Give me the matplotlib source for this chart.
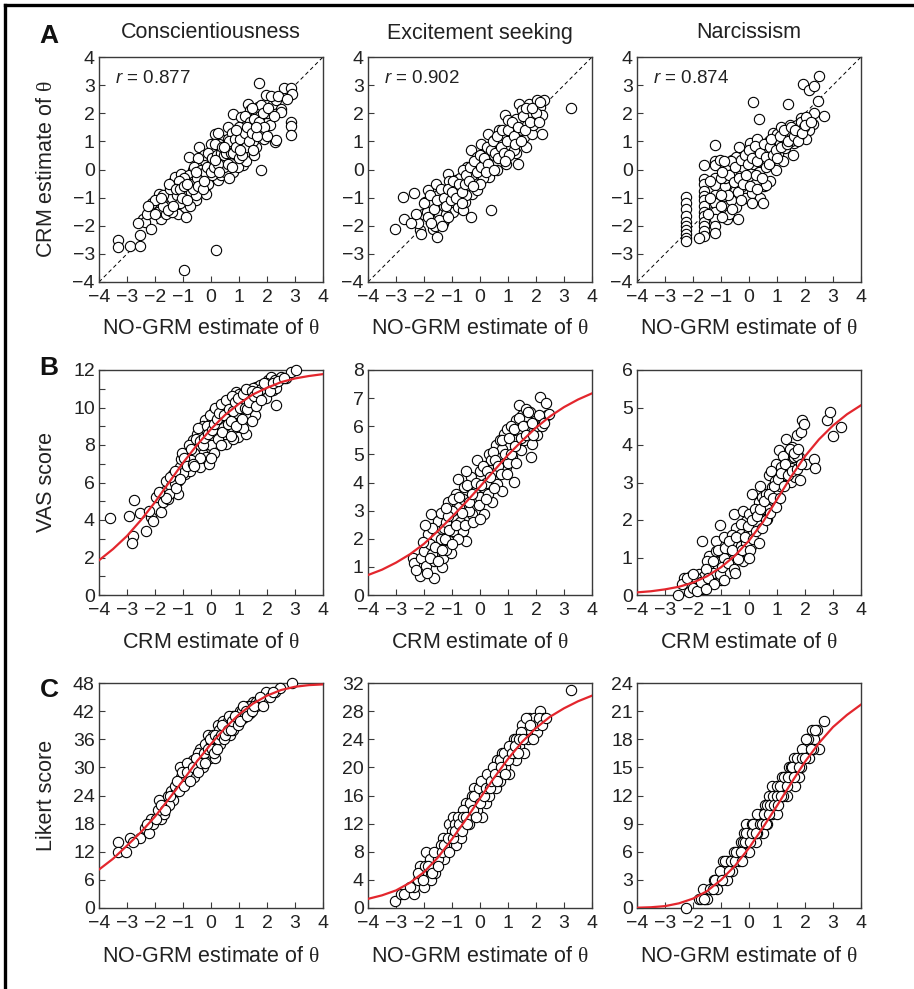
import matplotlib
matplotlib.use('Agg')
import matplotlib.pyplot as plt
from matplotlib.lines import Line2D
from matplotlib.ticker import MultipleLocator

plt.rcParams['font.family'] = ['Liberation Sans', 'DejaVu Sans']
plt.rcParams['mathtext.fontset'] = 'custom'
plt.rcParams['mathtext.rm'] = 'Liberation Serif'
plt.rcParams['mathtext.it'] = 'Liberation Sans:italic'
plt.rcParams['mathtext.bf'] = 'Liberation Sans:bold'

# ---- dados ----
traits = ['Conscientiousness', 'Excitement seeking', 'Narcissism']
r_values = ['0.877', '0.902', '0.874']

# linha A: NO-GRM (x) vs CRM (y)
pts_a_consc = [(-3.32, -2.52), (-3.32, -2.75), (-2.9, -2.73), (-2.55, -2.73), (-2.52, -2.34), (-2.43, -1.75),
               (-2.35, -1.86), (-2.13, -2.1), (-2.17, -1.51), (-1.9, -1.1), (-1.86, -0.86), (-1.8, -1.75),
               (-1.65, -1.39), (-1.6, -1.15), (-1.54, -0.86), (-1.36, -0.44), (-1.3, -0.27), (-1.24, -1.1),
               (-1.18, -1.57), (-1.06, -0.15), (-1.02, -0.86), (-0.94, -1.33), (-0.88, -1.69), (-0.79, 0.45),
               (-0.7, -0.5), (-0.64, -0.03), (-0.52, -1.1), (-0.43, 0.8), (-0.35, -0.38), (-0.29, 0.21),
               (-0.23, -0.62), (-0.17, -0.86), (-0.05, -0.27), (0.01, 0.92), (0.07, 0.45), (0.07, -0.03),
               (0.13, 1.27), (0.19, -2.87), (-0.96, -3.58), (0.25, -0.38), (0.31, 0.57), (0.43, 1.04),
               (0.55, 0.21), (0.61, 1.51), (0.67, 0.8), (0.79, 1.98), (0.79, -0.09), (0.85, 0.33), (0.96, 1.27),
               (1.02, 0.68), (1.08, 1.87), (1.14, 0.15), (1.26, 1.16), (1.32, 2.34), (1.36, 0.57), (1.38, 2.1),
               (1.5, 1.51), (1.62, 0.8), (1.68, 2.22), (1.71, 3.08), (1.8, 0.0), (1.86, 1.27), (1.92, 1.75),
               (1.98, 2.64), (2.21, 2.34), (2.27, 0.98), (2.33, 2.46), (2.51, 2.16), (2.55, 2.64), (2.6, 2.9),
               (2.87, 2.9), (2.89, 2.7), (2.87, 1.69), (2.87, 1.54), (2.87, 1.22), (2.51, 2.04), (2.33, 1.04),
               (-1.5, -1.3), (-1.4, -1.0), (-1.3, -0.6), (-1.2, -0.9), (-1.1, -1.2), (-1.0, -0.5), (-0.9, -0.9),
               (-0.8, -0.2), (-0.7, -0.8), (-0.6, -0.4), (-0.5, 0.1), (-0.4, -0.5), (-0.3, -0.2), (-0.2, 0.3),
               (-0.1, -0.5), (0.0, 0.2), (0.1, 0.6), (0.2, 0.0), (0.3, 0.9), (0.35, -0.2), (0.4, 0.4), (0.5, 0.8),
               (0.5, -0.1), (0.6, 1.1), (0.7, 0.3), (0.8, 0.9), (0.9, 0.5), (1.0, 1.5), (1.1, 0.8), (1.2, 1.9),
               (1.3, 0.5), (1.4, 1.7), (1.5, 1.0), (1.6, 2.0), (1.7, 1.4), (1.8, 2.3), (1.9, 1.1), (2.0, 2.0),
               (-1.9, -1.5), (-1.7, -0.9), (-1.6, -1.6), (-1.45, -0.7), (-0.95, -0.3), (-0.75, -1.3),
               (-0.55, -0.9), (-0.25, 0.5), (0.05, -0.2), (0.15, 0.9), (0.45, 0.1), (0.65, -0.3), (0.75, 1.3),
               (0.95, 0.1), (1.15, 1.3), (1.25, 0.3), (1.45, 2.2), (1.55, 0.5), (1.75, 1.9), (2.1, 1.6),
               (0.25, 1.3), (-0.45, 0.4), (-1.15, -0.4), (-2.1, -1.2), (-2.3, -1.6),
               (-1.7, -1.3), (-1.5, -0.5), (-1.4, -1.5), (-1.25, -0.7), (-1.1, -0.7), (-1.05, -1.0),
               (-0.95, -0.6), (-0.85, -1.1), (-0.75, -0.5), (-0.65, -0.7), (-0.6, 0.1), (-0.5, -0.3),
               (-0.45, -0.6), (-0.35, 0.0), (-0.3, -0.7), (-0.2, -0.1), (-0.15, 0.1), (-0.1, 0.6), (0.0, -0.1),
               (0.05, 0.4), (0.1, 0.1), (0.2, 0.5), (0.25, 0.2), (0.3, -0.1), (0.35, 0.6), (0.4, 0.8),
               (0.45, 0.5), (0.55, 0.6), (0.6, 0.2), (0.65, 1.0), (0.7, 0.6), (0.75, 0.1), (0.8, 0.6),
               (0.85, 1.1), (0.9, 0.8), (1.0, 0.4), (1.05, 1.1), (1.1, 0.5), (1.2, 1.3), (1.25, 0.8), (1.3, 1.5),
               (1.35, 1.0), (1.45, 1.3), (1.5, 0.7), (1.55, 1.8), (1.65, 1.2), (1.7, 1.7), (1.85, 2.0),
               (1.9, 1.5), (2.0, 1.2), (2.05, 2.2), (2.15, 2.6), (2.25, 1.9), (2.4, 2.6), (2.7, 2.5),
               (-2.0, -1.1), (-1.8, -1.0), (-2.25, -1.3), (-2.6, -1.9), (-2.0, -1.6), (-1.55, -1.45),
               (-1.35, -1.3), (-0.85, -0.5), (-0.55, -0.1), (-0.25, -0.4), (0.15, 0.35), (0.45, 0.8),
               (0.9, 1.4), (1.05, 0.7), (1.6, 1.5)]

pts_a_excit = [(-3.02, -2.1), (-2.76, -0.98), (-2.7, -1.75), (-2.34, -0.83), (-2.31, -1.86), (-2.16, -2.16),
               (-2.1, -2.28), (-2.04, -1.57), (-1.95, -1.15), (-1.87, -0.74), (-1.81, -1.33), (-1.75, -0.98),
               (-1.69, -2.1), (-1.63, -1.81), (-1.57, -0.5), (-1.55, -2.4), (-1.45, -1.57), (-1.39, -1.09),
               (-1.33, -1.92), (-1.24, -1.75), (-1.22, -0.86), (-1.16, -0.15), (-1.12, -1.09), (-1.04, -0.56),
               (-0.98, -1.51), (-0.92, -0.98), (-0.86, -0.38), (-0.8, -1.33), (-0.74, -0.62), (-0.68, -0.86),
               (-0.62, -1.45), (-0.56, -0.15), (-0.53, -1.15), (-0.45, 0.09), (-0.45, -0.62), (-0.33, -1.69),
               (-0.33, 0.68), (-0.27, -0.86), (-0.21, -0.38), (-0.15, 0.09), (-0.09, 0.45), (-0.09, -0.74),
               (-0.03, -0.15), (0.03, 0.92), (0.09, 0.33), (0.18, 0.09), (0.21, 0.62), (0.27, 1.27), (0.32, -0.27),
               (0.38, -1.45), (0.44, 0.45), (0.5, 1.04), (0.56, 0.21), (0.62, 0.8), (0.68, 1.39), (0.74, 0.45),
               (0.8, 1.1), (0.89, 1.93), (0.94, 0.21), (1.01, 1.75), (1.06, 0.8), (1.15, 1.04), (1.21, 1.51),
               (1.27, 0.57), (1.33, 1.27), (1.37, 0.21), (1.41, 2.34), (1.49, 2.1), (1.51, 1.63), (1.57, 1.16),
               (1.63, 0.8), (1.69, 1.57), (1.75, 2.34), (1.81, 1.93), (1.87, 1.27), (1.92, 2.1), (2.04, 2.46),
               (2.13, 2.22), (2.22, 1.93), (2.22, 1.27), (2.28, 2.46), (3.26, 2.2),
               (-1.9, -1.5), (-1.7, -1.2), (-1.5, -0.9), (-1.3, -1.3), (-1.1, -0.4), (-0.9, -0.7), (-0.7, -0.3),
               (-0.5, -0.9), (-0.3, -0.2), (-0.1, 0.2), (0.1, -0.3), (0.3, 0.5), (0.5, 0.5), (0.7, 0.9),
               (0.9, 1.2), (1.1, 1.3), (1.3, 1.8), (1.5, 1.4), (1.7, 2.0), (1.9, 1.6), (-2.2, -1.9), (-1.6, -2.0),
               (-1.2, -1.6), (-0.6, 0.0), (0.0, -0.5), (0.6, 0.0), (1.2, 0.7), (2.0, 2.0),
               (-2.0, -1.2), (-1.85, -1.7), (-1.8, -0.9), (-1.65, -1.4), (-1.55, -1.1), (-1.45, -1.8),
               (-1.4, -0.7), (-1.3, -1.0), (-1.2, -1.3), (-1.15, -0.7), (-1.05, -1.1), (-1.0, -0.8),
               (-0.95, -0.4), (-0.85, -1.0), (-0.75, -0.5), (-0.65, -0.8), (-0.55, -0.5), (-0.5, -0.2),
               (-0.4, -0.4), (-0.35, 0.1), (-0.25, -0.6), (-0.2, 0.3), (-0.1, -0.1), (0.0, 0.5), (0.05, 0.1),
               (0.15, 0.4), (0.25, 0.8), (0.3, 0.2), (0.4, 0.7), (0.45, 1.0), (0.55, 0.6), (0.6, 1.2),
               (0.65, 0.4), (0.75, 0.8), (0.8, 1.4), (0.85, 0.6), (0.95, 1.0), (1.0, 1.4), (1.05, 0.5),
               (1.15, 1.7), (1.2, 1.2), (1.25, 0.9), (1.35, 1.5), (1.45, 1.0), (1.55, 1.9), (1.6, 1.4),
               (1.65, 2.2), (1.8, 1.7), (1.85, 2.2), (2.1, 1.7), (2.15, 2.4), (-2.45, -1.9), (-2.3, -1.6),
               (-1.75, -1.9), (-1.35, -2.0), (-1.15, -1.7), (-0.65, -1.2), (0.2, -0.1), (0.5, 0.0), (0.9, 0.3)]

pts_a_narc = [(-2.25, -0.98), (-2.25, -1.2), (-2.25, -1.4), (-2.25, -1.65), (-2.25, -1.85), (-2.25, -2.0),
              (-2.25, -2.15), (-2.25, -2.3), (-2.25, -2.45), (-2.25, -2.55),
              (-1.62, 0.15), (-1.62, -0.35), (-1.62, -0.5), (-1.62, -0.75), (-1.62, -0.95), (-1.62, -1.1),
              (-1.62, -1.3), (-1.62, -1.5), (-1.62, -1.65), (-1.62, -1.85), (-1.62, -2.0), (-1.62, -2.2),
              (-1.62, -2.35), (-1.8, -2.42),
              (-1.2, 0.86), (-1.2, 0.3), (-1.2, 0.15), (-1.2, -0.3), (-1.2, -0.55), (-1.2, -0.9), (-1.2, -1.2),
              (-1.2, -1.5), (-1.2, -1.75), (-1.2, -2.0), (-1.2, -2.25),
              (-0.85, -0.6), (-0.85, -1.0), (-0.85, -1.3), (-0.85, -1.55), (-0.85, -0.3), (-0.85, 0.05),
              (0.16, 2.4), (0.34, 1.81), (1.39, 2.34), (1.92, 3.05), (2.14, 2.84), (2.32, 2.96), (2.49, 3.31),
              (2.46, 2.44), (2.69, 1.89), (2.32, 2.0), (2.29, 1.63), (2.14, 1.39), (2.02, 1.1), (1.58, 0.5),
              (1.6, 0.95), (1.84, 1.84),
              (-0.6, 0.35), (-0.55, -0.1), (-0.5, -0.75), (-0.45, -1.35), (-0.35, 0.8), (-0.3, -0.2),
              (-0.25, -0.6), (-0.2, 0.1), (-0.15, -1.0), (-0.1, 0.4), (0.0, -0.35), (0.05, 0.95), (0.1, -0.85),
              (0.15, 0.2), (0.2, -0.5), (0.25, 0.55), (0.3, 1.1), (0.35, -0.1), (0.4, -1.0), (0.45, 0.3),
              (0.5, -1.2), (0.5, 0.7), (0.55, -0.6), (0.6, 0.1), (0.65, 0.65), (0.7, 1.0), (0.75, -0.4),
              (0.8, 0.35), (0.85, 1.3), (0.9, 0.9), (0.95, 0.0), (1.0, 1.25), (1.05, 0.55), (1.1, 0.95),
              (1.15, 1.5), (1.2, 0.3), (1.25, 1.1), (1.3, 0.75), (1.4, 1.3), (1.45, 1.6), (1.5, 1.0), (1.55, 1.3),
              (1.7, 1.6), (1.8, 1.2), (1.85, 1.7), (1.95, 1.5), (2.05, 1.85), (-0.8, -1.75), (-0.7, -1.6),
              (-0.65, -1.1), (-1.0, -0.3), (-0.95, -1.7), (-0.4, -1.75), (-1.05, 0.35), (-0.45, 0.45),
              (0.6, -0.55),
              (-0.75, -0.9), (-0.7, -0.2), (-0.65, 0.3), (-0.55, -0.45), (-0.5, 0.1), (-0.4, -0.8),
              (-0.35, -0.3), (-0.3, 0.35), (-0.2, -0.5), (-0.15, 0.5), (-0.1, -0.2), (-0.05, 0.2), (0.0, 0.7),
              (0.05, -0.6), (0.1, 0.4), (0.2, 0.85), (0.25, -0.2), (0.3, 0.3), (0.4, 0.6), (0.45, -0.3),
              (0.55, 0.9), (0.6, 0.45), (0.7, 0.2), (0.75, 0.8), (0.8, 1.1), (0.85, 0.5), (0.95, 0.7),
              (1.0, 0.4), (1.1, 1.2), (1.15, 0.8), (1.25, 1.4), (1.35, 0.9), (1.4, 1.0), (1.5, 1.5), (1.6, 1.2),
              (1.65, 1.4), (1.75, 1.0), (1.9, 1.3), (2.0, 1.6), (2.2, 1.7), (-1.0, -0.9), (-1.0, -1.3),
              (-0.9, 0.3), (-0.95, -0.1), (-1.4, -1.0), (-1.4, -0.4), (-1.45, -1.6), (-0.6, -1.4), (-0.3, -1.1),
              (0.1, -1.2), (0.3, -0.7)]

# linha B: CRM (x) vs VAS
pts_b_consc = [(-3.62, 4.09), (-2.93, 4.23), (-2.75, 5.09), (-2.79, 3.13), (-2.81, 2.77), (-2.55, 4.36),
               (-2.33, 3.43), (-2.13, 4.14), (-2.07, 3.96), (-1.98, 5.21), (-1.77, 4.41), (-1.71, 4.95),
               (-1.65, 5.57), (-1.6, 6.1), (-1.54, 5.12), (-1.42, 5.84), (-1.36, 6.46), (-1.18, 5.39),
               (-1.18, 6.1), (-1.12, 6.82), (-1.06, 7.27), (-0.94, 6.46), (-0.88, 7.54), (-0.82, 7.0),
               (-0.76, 6.64), (-0.64, 8.25), (-0.52, 7.0), (-0.46, 7.89), (-0.4, 6.82), (-0.35, 8.43),
               (-0.29, 7.54), (-0.23, 9.32), (-0.17, 7.36), (-0.11, 8.07), (-0.07, 7.0), (-0.05, 8.79),
               (0.07, 9.5), (0.13, 8.25), (0.19, 9.86), (0.31, 8.96), (0.37, 8.43), (0.43, 10.04), (0.49, 9.32),
               (0.55, 8.07), (0.67, 10.21), (0.73, 8.96), (0.79, 9.5), (0.85, 8.79), (0.9, 10.84), (0.96, 8.43),
               (1.02, 9.86), (1.14, 9.32), (1.2, 10.39), (1.26, 8.61), (1.32, 10.93), (1.4, 9.95), (1.56, 9.59),
               (1.62, 11.11), (1.86, 10.75), (1.98, 10.48), (2.04, 11.46), (2.15, 11.64), (2.21, 10.93),
               (2.33, 10.13), (2.27, 11.46), (2.33, 11.02), (2.51, 11.64), (2.69, 11.55), (2.87, 11.91),
               (3.05, 12.0), (1.98, 11.29), (1.74, 11.2), (1.5, 11.02),
               (-0.3, 9.0), (-0.2, 8.6), (0.0, 9.2), (0.0, 8.0), (0.1, 9.8), (0.2, 8.7), (0.3, 10.0), (0.4, 9.0),
               (0.5, 10.3), (0.6, 9.6), (0.6, 8.8), (0.7, 10.5), (0.8, 8.3), (0.9, 10.0), (1.0, 9.2), (1.0, 10.7),
               (1.1, 10.2), (1.2, 9.6), (1.3, 10.6), (1.4, 10.8), (1.5, 10.3), (1.7, 10.5), (1.8, 11.0),
               (2.0, 11.2), (-0.6, 7.6), (-0.7, 7.2), (-0.9, 7.0), (-1.0, 6.5), (-1.3, 6.0), (-1.5, 5.4),
               (-0.5, 8.6), (-0.4, 7.3), (0.1, 7.6), (0.25, 9.4), (0.5, 8.6), (0.85, 9.7), (1.15, 8.9), (1.45, 9.3),
               (-1.6, 5.2), (-1.45, 6.3), (-1.3, 6.6), (-1.25, 5.7), (-1.1, 6.2), (-1.05, 7.6), (-0.95, 7.3),
               (-0.85, 6.9), (-0.8, 8.0), (-0.7, 7.8), (-0.65, 7.0), (-0.55, 8.3), (-0.45, 8.9), (-0.4, 8.2),
               (-0.3, 8.0), (-0.25, 8.4), (-0.15, 9.0), (-0.1, 8.6), (-0.05, 9.6), (0.05, 8.8), (0.1, 9.1),
               (0.15, 10.0), (0.2, 9.4), (0.25, 8.3), (0.3, 9.7), (0.35, 10.2), (0.4, 8.7), (0.45, 9.6),
               (0.55, 10.4), (0.6, 9.1), (0.65, 9.9), (0.7, 9.3), (0.75, 10.6), (0.8, 9.8), (0.85, 10.3),
               (0.9, 9.0), (0.95, 10.5), (1.05, 10.0), (1.1, 9.4), (1.15, 10.7), (1.2, 10.0), (1.25, 11.0),
               (1.3, 9.9), (1.35, 10.3), (1.45, 10.9), (1.55, 10.6), (1.6, 10.1), (1.65, 10.8), (1.8, 10.4),
               (1.9, 11.3), (2.1, 10.9), (2.2, 11.3), (2.4, 11.4), (2.6, 11.6), (-1.85, 5.5), (-2.2, 4.5),
               (-0.6, 6.9), (0.0, 7.3), (0.35, 8.0), (0.7, 8.5)]

pts_b_excit = [(-2.4, 1.33), (-2.34, 1.15), (-2.16, 0.68), (-2.1, 1.33), (-1.99, 1.57), (-1.93, 1.04),
               (-1.87, 2.17), (-1.75, 2.88), (-1.71, 1.45), (-1.63, 0.62), (-1.63, 1.21), (-1.57, 2.05),
               (-1.51, 2.64), (-1.45, 1.69), (-1.36, 0.98), (-1.33, 1.33), (-1.27, 2.4), (-1.16, 3.3),
               (-1.1, 1.93), (-1.04, 1.51), (-0.98, 2.29), (-0.92, 2.76), (-0.86, 3.6), (-0.8, 4.13),
               (-0.74, 3.12), (-0.62, 2.29), (-0.56, 3.83), (-0.5, 1.93), (-0.45, 2.76), (-0.39, 3.36),
               (-0.33, 4.19), (-0.27, 2.88), (-0.15, 3.71), (-0.09, 4.79), (0.03, 4.19), (0.09, 3.83),
               (0.15, 2.88), (0.21, 4.57), (0.32, 5.02), (0.38, 3.95), (0.44, 3.3), (0.5, 4.57), (0.56, 5.32),
               (0.62, 3.95), (0.68, 4.79), (0.74, 5.02), (0.8, 3.71), (0.86, 5.74), (0.92, 4.55), (0.98, 5.92),
               (1.04, 5.26), (1.15, 4.9), (1.21, 4.01), (1.27, 6.21), (1.33, 5.68), (1.39, 6.75), (1.45, 5.14),
               (1.51, 6.39), (1.57, 5.5), (1.63, 6.63), (1.69, 6.21), (1.75, 5.98), (1.81, 4.9), (1.87, 5.38),
               (1.99, 6.27), (2.05, 5.68), (2.16, 7.05), (2.34, 6.81), (2.4, 6.39), (2.46, 6.45),
               (-1.8, 1.8), (-1.4, 2.0), (-1.2, 2.6), (-1.0, 3.0), (-0.7, 2.6), (-0.6, 3.4), (-0.4, 3.0),
               (-0.2, 3.4), (0.0, 3.5), (0.0, 4.4), (0.2, 4.0), (0.4, 4.8), (0.6, 4.4), (0.8, 5.2), (1.0, 4.7),
               (1.2, 5.5), (1.4, 5.9), (1.6, 6.0), (1.8, 6.5), (2.0, 6.0), (-1.2, 1.6), (-0.8, 2.0), (0.3, 3.6),
               (0.7, 5.5), (1.1, 6.0),
               (-2.3, 0.9), (-2.05, 1.9), (-1.9, 0.8), (-1.8, 1.3), (-1.7, 2.4), (-1.6, 1.7), (-1.5, 1.2),
               (-1.4, 2.9), (-1.35, 1.6), (-1.25, 2.0), (-1.15, 2.8), (-1.1, 2.3), (-1.0, 1.8), (-0.95, 3.4),
               (-0.85, 2.5), (-0.75, 3.5), (-0.65, 2.9), (-0.55, 2.5), (-0.45, 3.9), (-0.4, 3.3), (-0.3, 3.6),
               (-0.25, 2.6), (-0.15, 4.0), (-0.05, 3.2), (0.05, 3.9), (0.1, 4.6), (0.2, 3.4), (0.25, 4.4),
               (0.35, 4.2), (0.45, 5.1), (0.5, 3.8), (0.55, 4.8), (0.65, 4.6), (0.75, 4.3), (0.8, 5.5),
               (0.9, 5.0), (0.95, 4.3), (1.05, 5.6), (1.1, 5.0), (1.2, 5.9), (1.25, 5.3), (1.3, 4.7), (1.4, 6.3),
               (1.45, 5.6), (1.55, 6.0), (1.65, 5.7), (1.7, 6.5), (1.85, 6.1), (1.9, 5.7), (2.1, 6.4), (2.2, 6.0),
               (2.3, 6.1), (-1.95, 2.5), (-1.2, 3.1), (-0.5, 4.4), (0.0, 2.7)]

pts_b_narc = [(-2.54, 0.0), (-2.31, 0.46), (-2.07, 0.51), (-2.13, 0.09), (-1.83, 0.29), (-1.77, 0.55),
              (-1.68, 1.43), (-1.65, 0.15), (-1.48, 0.29), (-1.42, 1.04), (-1.36, 0.55), (-1.18, 1.45),
              (-1.18, 1.18), (-1.12, 0.73), (-1.04, 1.88), (-1.0, 0.91), (-0.88, 1.54), (-0.82, 0.55),
              (-0.77, 1.22), (-0.65, 0.91), (-0.59, 0.78), (-0.53, 2.16), (-0.47, 1.8), (-0.45, 1.36),
              (-0.35, 1.04), (-0.29, 1.63), (-0.23, 2.25), (-0.14, 1.09), (-0.11, 1.98), (-0.05, 1.63),
              (0.0, 2.16), (0.06, 1.31), (0.12, 2.7), (0.18, 1.8), (0.24, 2.25), (0.34, 2.47), (0.42, 1.98),
              (0.48, 2.61), (0.54, 2.16), (0.6, 2.7), (0.66, 2.03), (0.72, 3.19), (0.77, 2.52), (0.83, 2.88),
              (0.93, 3.05), (0.98, 3.5), (1.01, 2.7), (1.07, 3.86), (1.13, 3.41), (1.19, 2.92), (1.28, 3.14),
              (1.33, 4.17), (1.37, 3.5), (1.43, 3.77), (1.49, 3.01), (1.55, 3.95), (1.6, 3.68), (1.66, 3.14),
              (1.72, 4.26), (1.78, 3.68), (1.84, 4.35), (1.9, 4.66), (1.96, 4.57), (2.02, 3.5), (1.82, 3.07),
              (2.32, 3.63), (2.37, 3.39), (2.8, 4.66), (2.91, 4.87), (3.0, 4.23), (3.29, 4.48),
              (-2.0, 0.2), (-1.6, 0.5), (-1.3, 0.6), (-1.0, 0.4), (-0.9, 1.0), (-0.7, 0.6), (-0.5, 1.1),
              (-0.3, 1.3), (-0.1, 1.4), (0.1, 1.6), (0.3, 1.9), (0.5, 2.3), (0.7, 2.3), (0.9, 2.5), (1.1, 2.9),
              (1.3, 3.2), (1.5, 3.4), (1.7, 3.7), (-0.6, 1.6), (-0.2, 0.9), (0.2, 2.3), (0.4, 2.9), (0.8, 3.3),
              (1.2, 3.7), (-1.5, 0.9), (-1.9, 0.45),
              (-2.4, 0.3), (-2.2, 0.45), (-2.0, 0.55), (-1.85, 0.1), (-1.7, 0.35), (-1.55, 0.7), (-1.45, 0.45),
              (-1.3, 0.9), (-1.25, 0.3), (-1.1, 1.2), (-1.05, 0.55), (-0.95, 0.75), (-0.85, 1.25),
              (-0.75, 0.85), (-0.7, 1.45), (-0.6, 1.2), (-0.55, 0.7), (-0.45, 1.55), (-0.4, 0.95), (-0.3, 1.9),
              (-0.25, 1.2), (-0.15, 1.55), (-0.05, 1.85), (0.05, 1.2), (0.1, 2.0), (0.15, 1.5), (0.25, 1.7),
              (0.3, 2.1), (0.4, 2.3), (0.45, 1.8), (0.55, 2.5), (0.6, 2.0), (0.7, 2.7), (0.75, 2.2), (0.85, 2.6),
              (0.9, 2.9), (0.95, 2.35), (1.05, 3.1), (1.1, 2.6), (1.15, 3.25), (1.25, 2.9), (1.3, 3.5),
              (1.4, 3.2), (1.45, 3.9), (1.55, 3.3), (1.6, 3.8), (1.7, 3.35), (1.75, 3.9), (1.85, 3.5),
              (-1.55, 0.15), (-0.9, 0.4), (-0.5, 0.6), (0.0, 1.0), (0.35, 1.4)]

# linha C: NO-GRM (x) vs Likert
pts_c_consc = [(-3.32, 14), (-3.32, 12), (-3.05, 12), (-2.9, 15), (-2.55, 15), (-2.37, 17), (-2.21, 16),
               (-2.15, 19), (-2.07, 18), (-1.86, 23), (-1.77, 19), (-1.69, 20), (-1.6, 22), (-1.54, 24),
               (-1.42, 25), (-1.36, 23), (-1.24, 25), (-1.12, 30), (-1.06, 28), (-0.98, 29), (-0.82, 27),
               (-0.76, 30), (-0.64, 31.5), (-0.52, 29), (-0.4, 34), (-0.29, 32), (-0.17, 33), (-0.11, 37),
               (-0.05, 32), (0.07, 37), (0.13, 34), (0.25, 39), (0.31, 35), (0.43, 40), (0.55, 38), (0.67, 37),
               (0.79, 41), (0.85, 39), (1.02, 42), (1.14, 40.5), (1.32, 43), (1.38, 41.5), (1.5, 44), (1.62, 43),
               (1.8, 44.5), (1.92, 45), (1.98, 46), (2.27, 46), (2.45, 47), (2.89, 48),
               (-1.3, 26), (-1.0, 27), (-0.9, 28), (-0.7, 29), (-0.6, 28), (-0.5, 31), (-0.3, 30), (-0.2, 35),
               (0.0, 33), (0.0, 35), (0.1, 36), (0.2, 36), (0.3, 38), (0.4, 37), (0.5, 39), (0.6, 40), (0.7, 39),
               (0.8, 38), (0.9, 40), (1.0, 41), (1.1, 42), (1.2, 41), (1.4, 43), (1.6, 44), (1.7, 44),
               (-1.5, 22), (-1.9, 21), (-0.45, 33), (-0.85, 31), (0.15, 32),
               (-2.8, 14), (-2.3, 18), (-1.95, 19), (-1.8, 22), (-1.65, 21), (-1.45, 24), (-1.2, 27),
               (-1.15, 25), (-1.05, 29), (-0.95, 26), (-0.85, 29), (-0.75, 27), (-0.65, 30), (-0.55, 32),
               (-0.45, 29), (-0.35, 31), (-0.25, 33), (-0.2, 31), (-0.1, 34), (-0.05, 36), (0.05, 34),
               (0.1, 33), (0.15, 37), (0.2, 34), (0.25, 36), (0.35, 37), (0.4, 39), (0.45, 36), (0.5, 37),
               (0.6, 38), (0.65, 41), (0.7, 38), (0.75, 40), (0.85, 41), (0.95, 39), (1.05, 40), (1.15, 43),
               (1.25, 42), (1.3, 41), (1.45, 42), (1.55, 43), (1.75, 45), (1.85, 43), (2.1, 45), (2.2, 46)]

pts_c_excit = [(-3.02, 1), (-2.82, 2), (-2.7, 2), (-2.34, 2), (-2.34, 3), (-2.22, 4), (-2.14, 6), (-1.99, 3),
               (-1.93, 8), (-1.87, 5), (-1.75, 4), (-1.69, 6), (-1.57, 6), (-1.45, 8), (-1.33, 10), (-1.27, 7),
               (-1.1, 12), (-1.04, 10), (-0.98, 13), (-0.86, 9), (-0.8, 11), (-0.68, 10), (-0.56, 12),
               (-0.5, 15), (-0.39, 14), (-0.27, 13), (-0.21, 17), (-0.09, 15), (-0.03, 16), (0.06, 13),
               (0.15, 18), (0.21, 15), (0.32, 16), (0.38, 19), (0.44, 18), (0.56, 17), (0.68, 20), (0.74, 19),
               (0.8, 22), (0.92, 21), (1.04, 19), (1.1, 23), (1.21, 24), (1.27, 21), (1.39, 23), (1.51, 26),
               (1.57, 22), (1.63, 25), (1.75, 27), (1.81, 25), (1.87, 26), (1.93, 27), (2.05, 25), (2.16, 28),
               (2.28, 27), (3.26, 31),
               (-2.1, 5), (-1.8, 7), (-1.6, 5), (-1.4, 9), (-1.2, 9), (-1.0, 11), (-0.9, 12), (-0.7, 12),
               (-0.6, 14), (-0.4, 12), (-0.3, 16), (-0.1, 14), (0.0, 17), (0.1, 16), (0.3, 18), (0.5, 19),
               (0.6, 21), (0.7, 18), (0.9, 20), (1.0, 22), (1.2, 22), (1.3, 24), (1.45, 25), (1.7, 24),
               (2.0, 26), (-1.5, 7),
               (-2.5, 3), (-2.2, 5), (-2.05, 4), (-1.95, 6), (-1.85, 6), (-1.7, 5), (-1.65, 8), (-1.5, 6),
               (-1.35, 8), (-1.3, 9), (-1.15, 10), (-1.1, 8), (-0.95, 10), (-0.9, 11), (-0.8, 13), (-0.75, 12),
               (-0.65, 11), (-0.6, 13), (-0.5, 13), (-0.45, 12), (-0.35, 15), (-0.25, 14), (-0.2, 16),
               (-0.15, 13), (-0.05, 17), (0.0, 15), (0.05, 18), (0.15, 16), (0.2, 17), (0.25, 19), (0.35, 17),
               (0.4, 18), (0.45, 20), (0.55, 19), (0.6, 18), (0.7, 21), (0.75, 20), (0.85, 22), (0.9, 19),
               (1.0, 21), (1.05, 23), (1.15, 22), (1.25, 23), (1.35, 22), (1.4, 24), (1.55, 24), (1.65, 27),
               (1.8, 26), (1.9, 24), (2.1, 27), (2.2, 26), (2.35, 27)]

pts_c_narc = [(-2.25, 0), (-1.63, 2), (-1.77, 1), (-1.56, 1), (-1.24, 3), (-1.16, 2), (-0.92, 5), (-0.88, 4),
              (-0.77, 3), (-0.59, 4), (-0.53, 6), (-0.35, 5), (-0.29, 7), (-0.23, 6), (-0.17, 8), (-0.11, 9),
              (-0.05, 7), (0.0, 6), (0.1, 9), (0.18, 8), (0.24, 7), (0.36, 9), (0.44, 10), (0.5, 8), (0.57, 11),
              (0.66, 9), (0.72, 12), (0.81, 10), (0.83, 13), (0.95, 11), (1.01, 10), (1.07, 12), (1.17, 14),
              (1.25, 13), (1.37, 12), (1.43, 15), (1.49, 14), (1.6, 16), (1.66, 13), (1.78, 14), (1.84, 15),
              (1.96, 16), (2.02, 17), (2.08, 18), (2.14, 16), (2.26, 19), (2.32, 18), (2.44, 19), (2.5, 17),
              (2.69, 20),
              (-1.5, 1), (-1.4, 2), (-1.0, 3), (-0.8, 5), (-0.6, 5), (-0.4, 6), (-0.2, 7), (0.0, 8), (0.2, 9),
              (0.3, 8), (0.5, 10), (0.6, 10), (0.8, 11), (0.9, 12), (1.0, 13), (1.2, 12), (1.3, 14), (1.5, 15),
              (1.7, 15), (1.9, 17), (2.1, 18), (2.3, 17),
              (-1.7, 1), (-1.6, 1), (-1.3, 2), (-1.2, 3), (-1.05, 4), (-0.95, 3), (-0.85, 5), (-0.7, 4),
              (-0.65, 5), (-0.5, 5), (-0.45, 6), (-0.3, 6), (-0.25, 5), (-0.15, 7), (-0.1, 8), (0.05, 7),
              (0.1, 8), (0.15, 9), (0.25, 8), (0.3, 10), (0.4, 9), (0.45, 9), (0.55, 10), (0.6, 9), (0.65, 11),
              (0.7, 10), (0.75, 11), (0.85, 12), (0.9, 11), (1.0, 12), (1.05, 11), (1.1, 13), (1.15, 12),
              (1.25, 14), (1.35, 13), (1.4, 14), (1.55, 15), (1.6, 14), (1.7, 16), (1.8, 15), (1.9, 16),
              (2.0, 16), (2.05, 18), (2.2, 17), (2.35, 19)]

# curvas vermelhas (lidas ponto a ponto)
curve_x = [-4, -3.5, -3, -2.5, -2, -1.5, -1, -0.5, 0, 0.5, 1, 1.5, 2, 2.5, 3, 3.5, 4]
curve_b_consc = [1.85, 2.45, 3.15, 4.0, 4.95, 6.0, 7.05, 8.0, 8.85, 9.6, 10.2, 10.7, 11.05, 11.35, 11.55, 11.68, 11.78]
curve_b_excit = [0.71, 0.9, 1.15, 1.45, 1.82, 2.28, 2.78, 3.3, 3.85, 4.42, 4.98, 5.48, 5.95, 6.35, 6.68, 6.95, 7.17]
curve_b_narc = [0.07, 0.1, 0.15, 0.22, 0.33, 0.5, 0.74, 1.05, 1.45, 1.95, 2.55, 3.15, 3.7, 4.15, 4.52, 4.82, 5.06]
curve_c_consc = [8.2, 10.5, 13.3, 16.2, 19.5, 23.3, 27.2, 31.3, 35.0, 38.4, 41.3, 43.6, 45.3, 46.5, 47.2, 47.55, 47.7]
curve_c_excit = [1.3, 1.8, 2.5, 3.6, 5.1, 7.2, 9.8, 12.6, 15.6, 18.5, 21.2, 23.6, 25.6, 27.2, 28.4, 29.4, 30.2]
curve_c_narc = [0.03, 0.08, 0.2, 0.5, 1.0, 1.8, 3.0, 4.5, 6.4, 8.6, 10.9, 13.3, 15.6, 17.6, 19.3, 20.6, 21.7]

# limites e ticks do eixo y por painel
ymax_b = [12, 8, 6]
ystep_b = [2, 1, 1]
ymax_c = [48, 32, 24]
ystep_c = [6, 4, 3]

# ---- layout em pixels ----
W, H = 914, 989
col_left = [99, 368, 637]
row_top = [57, 370, 683]
ax_w, ax_h = 224, 225
RED = '#e3262d'
FRAME = '#3a3a3a'
TXT = '#222222'
fs_lab = 15.5
fs_tick = 14

fig = plt.figure(figsize=(W / 100, H / 100), dpi=100)


def novo_eixo(row, col):
    ax = fig.add_axes([col_left[col] / W, 1 - (row_top[row] + ax_h) / H, ax_w / W, ax_h / H])
    for s in ax.spines.values():
        s.set_color(FRAME)
        s.set_linewidth(1.0)
    ax.tick_params(direction='in', length=4, width=0.8, color=FRAME, labelsize=fs_tick,
                   labelcolor=TXT, top=False, right=False)
    ax.tick_params(axis='x', pad=5)
    ax.tick_params(axis='y', pad=3)
    ax.tick_params(which='minor', direction='in', length=4, width=0.8, color=FRAME)
    ax.set_xlim(-4, 4)
    ax.set_xticks(range(-4, 5))
    return ax


def pontos(ax, pts):
    xs, ys = zip(*pts)
    ax.scatter(xs, ys, s=55, facecolor='white', edgecolor='black', linewidth=0.8,
               zorder=3, clip_on=False)


theta = r'$\mathrm{\theta}$'

for col in range(3):
    cx = (col_left[col] + ax_w / 2) / W

    # linha A
    ax = novo_eixo(0, col)
    ax.set_ylim(-4, 4)
    ax.set_yticks(range(-4, 5))
    ax.plot([-4, 4], [-4, 4], ls=(0, (4, 3)), color='black', lw=0.7, zorder=2)
    pontos(ax, [pts_a_consc, pts_a_excit, pts_a_narc][col])
    ax.text(0.07, 0.905, r'$r$ = ' + r_values[col], transform=ax.transAxes, fontsize=13.5,
            ha='left', va='center', color=TXT)
    fig.text(cx, 1 - 33 / H, traits[col], ha='center', va='center', fontsize=fs_lab, color=TXT)
    fig.text(cx, 1 - 328 / H, 'NO-GRM estimate of ' + theta, ha='center', va='center',
             fontsize=fs_lab, color=TXT)

    # linha B
    ax = novo_eixo(1, col)
    ax.set_ylim(0, ymax_b[col])
    ax.yaxis.set_major_locator(MultipleLocator(ystep_b[col]))
    if ystep_b[col] == 2:
        ax.yaxis.set_minor_locator(MultipleLocator(1))
    pontos(ax, [pts_b_consc, pts_b_excit, pts_b_narc][col])
    ax.plot(curve_x, [curve_b_consc, curve_b_excit, curve_b_narc][col], color=RED, lw=1.6, zorder=4)
    fig.text(cx, 1 - 643 / H, 'CRM estimate of ' + theta, ha='center', va='center',
             fontsize=fs_lab, color=TXT)

    # linha C
    ax = novo_eixo(2, col)
    ax.set_ylim(0, ymax_c[col])
    ax.yaxis.set_major_locator(MultipleLocator(ystep_c[col]))
    pontos(ax, [pts_c_consc, pts_c_excit, pts_c_narc][col])
    ax.plot(curve_x, [curve_c_consc, curve_c_excit, curve_c_narc][col], color=RED, lw=1.6, zorder=4)
    fig.text(cx, 1 - 956 / H, 'NO-GRM estimate of ' + theta, ha='center', va='center',
             fontsize=fs_lab, color=TXT)

# rótulos dos eixos y e letras dos painéis
ylabels = ['CRM estimate of ' + theta, 'VAS score', 'Likert score']
letras = ['A', 'B', 'C']
letra_y = [36, 368, 690]
for i in range(3):
    yc = 1 - (row_top[i] + ax_h / 2) / H
    fig.text(47 / W, yc, ylabels[i], rotation=90, ha='center', va='center',
             fontsize=fs_lab, color=TXT)
    fig.text(49 / W, 1 - letra_y[i] / H, letras[i], ha='center', va='center',
             fontsize=19, fontweight='bold', color='#111111')

# moldura (só topo e esquerda aparecem na imagem)
fig.add_artist(Line2D([4.5 / W, 1], [1 - 5 / H, 1 - 5 / H], color='black', lw=2.4))
fig.add_artist(Line2D([4.5 / W, 4.5 / W], [0, 1 - 5 / H], color='black', lw=2.4))

fig.savefig('out.png', dpi=100)
